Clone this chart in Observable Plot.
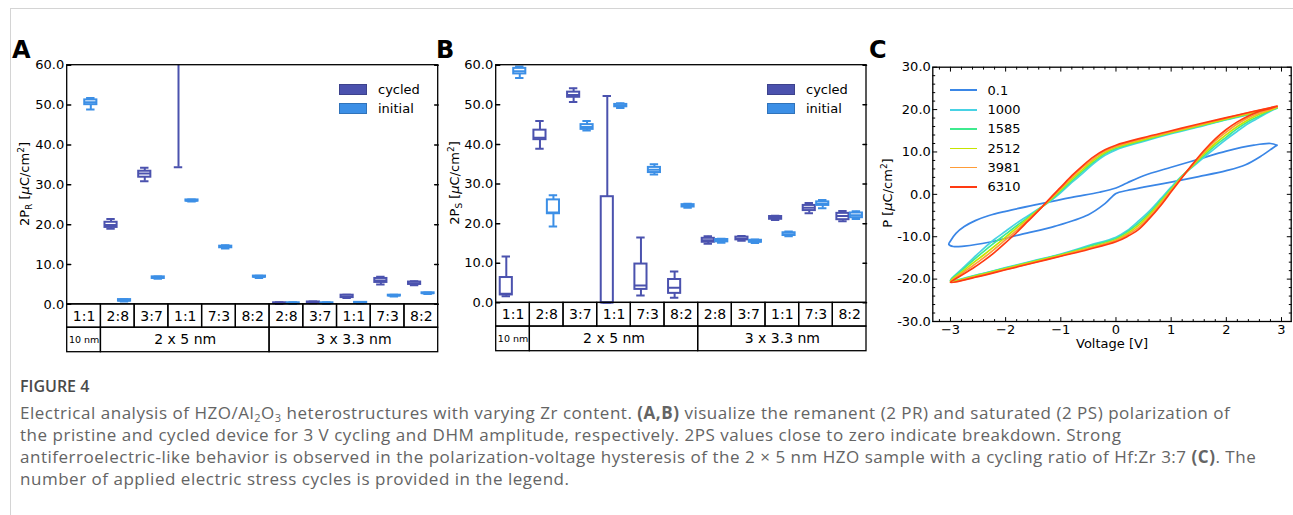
<!DOCTYPE html>
<html><head><meta charset="utf-8">
<script src="https://cdn.jsdelivr.net/npm/d3@7"></script>
<script src="https://cdn.jsdelivr.net/npm/@observablehq/plot@0.6"></script>
<style>
body{margin:0;background:#fff;}
#wrap{position:relative;width:1293px;height:515px;overflow:hidden;font-family:"DejaVu Sans",sans-serif;color:#000;}
.pan{position:absolute;top:0;}
.letter{position:absolute;font:bold 24px "DejaVu Sans";line-height:24px;}
.ylab{position:absolute;width:240px;height:20px;line-height:20px;text-align:center;transform:rotate(-90deg);font-size:13px;white-space:nowrap;}
.ylab sub{font-size:9px;vertical-align:-3px;line-height:0;}
.ylab sup{font-size:9px;vertical-align:5px;line-height:0;}
.leg{position:absolute;font-size:13px;}
.legrow{display:flex;align-items:center;}
#cap{position:absolute;left:20px;top:375px;color:#646464;font-family:"Open Sans",sans-serif;}
#cap .t{font-size:16px;font-weight:600;color:#4a4a4a;line-height:22px;}
#cap .b{font-size:17px;line-height:22px;white-space:nowrap;letter-spacing:0.52px;margin-top:5px;}
#cap sub{font-size:11px;vertical-align:-3px;line-height:0;}
.hline{position:absolute;left:10px;top:8px;width:1283px;height:1px;background:#d4d4d4;}
.vline{position:absolute;left:10px;top:8px;width:1px;height:507px;background:#d4d4d4;}
</style></head>
<body><div id="wrap">
<div class="hline"></div><div class="vline"></div>
</div>
<script>
// ---------- data ----------
const ratios = ["1:1","2:8","3:7","1:1","7:3","8:2","2:8","3:7","1:1","7:3","8:2"];
const stacks = [{label:"10 nm", first:0, last:0}, {label:"2 x 5 nm", first:1, last:5}, {label:"3 x 3.3 nm", first:6, last:10}];
const series = ["cycled", "initial"];
const boxColors = ["#4b52ae", "#3c8fe6"];
const boxTicks = [0, 10, 20, 30, 40, 50, 60];
// [low whisker, q1, median, q3, high whisker]; null = not shown
const prCycled = [null, [19.0,19.3,19.9,20.6,21.4], [30.9,31.9,32.8,33.4,34.3], [34.4,72,80,88,100], null, null,
  [0.1,0.2,0.3,0.4,0.5], [0.3,0.4,0.5,0.6,0.7], [1.6,1.7,2.0,2.3,2.4], [5.0,5.5,6.0,6.5,6.9], [4.8,5.0,5.3,5.6,5.8]];
const prInitial = [[48.9,50.1,50.7,51.3,51.8], [0.7,0.8,1.0,1.2,1.3], [6.4,6.5,6.7,6.9,7.0], [25.8,25.9,26.0,26.2,26.3],
  [14.0,14.2,14.4,14.6,14.8], [6.6,6.8,6.9,7.1,7.2], [0.1,0.2,0.3,0.4,0.5], [0.1,0.2,0.3,0.4,0.5], [0.2,0.3,0.4,0.5,0.6],
  [2.0,2.1,2.2,2.3,2.4], [2.6,2.7,2.8,2.9,3.0]];
const psCycled = [[1.7,2.0,2.3,6.4,11.7], [38.9,41.2,41.7,43.6,45.9], [50.7,51.9,52.5,53.2,54.2], [0,0,0.1,26.8,52.2],
  [1.85,3.4,4.4,9.8,16.5], [1.3,2.4,3.8,5.9,7.9], [14.9,15.3,15.8,16.3,16.8], [15.7,15.9,16.2,16.6,16.9],
  [20.9,21.1,21.4,21.8,22.0], [22.6,23.3,24.0,24.6,25.2], [20.6,21.0,21.9,22.6,23.2]];
const psInitial = [[56.8,57.8,58.5,59.2,59.7], [19.3,22.5,22.8,26.0,27.2], [43.5,43.8,44.4,45.0,45.9], [49.2,49.5,49.8,50.1,50.4],
  [32.4,32.9,33.6,34.2,35.0], [24.0,24.2,24.5,24.8,25.0], [15.2,15.4,15.7,16.0,16.2], [15.1,15.3,15.5,15.8,16.0],
  [16.8,17.0,17.3,17.7,18.0], [23.9,24.6,25.0,25.5,26.0], [21.2,21.5,22.1,22.7,23.1]];

// hysteresis loops: P at shared voltages (falling branch then rising branch)
const cycles = ["0.1", "1000", "1585", "2512", "3981", "6310"];
const loopColors = ["#3a86e6", "#48d2e4", "#3eea8e", "#c6e400", "#ff9c38", "#ff3a12"];
const vFall = [2.92, 2.5, 2.0, 1.5, 1.0, 0.5, 0.0, -0.2, -0.4, -0.6, -0.8, -1.0, -1.2, -1.4, -1.6, -1.8, -2.0, -2.2, -2.4, -2.6, -2.8, -3.0];
const vRise = [-3.0, -2.5, -2.0, -1.5, -1.0, -0.5, 0.0, 0.2, 0.4, 0.6, 0.8, 1.0, 1.2, 1.4, 1.6, 1.8, 2.0, 2.2, 2.4, 2.6, 2.8, 2.92];
const pFall1000 = [20.4, 19.1, 17.6, 15.9, 14.3, 12.5, 10.5, 9.2, 7.3, 5.0, 2.8, 0.4, -1.7, -3.4, -5.1, -6.8, -8.7, -10.6, -12.8, -15.2, -17.7, -20.3];
const pRise1000 = [-20.4, -18.9, -17.3, -15.7, -14.1, -12.1, -10.1, -8.6, -6.4, -4.0, -1.2, 1.7, 4.4, 6.6, 8.8, 10.9, 13.0, 14.9, 16.7, 18.2, 19.6, 20.3];
const pFall1585 = [20.5, 19.2, 17.7, 16.1, 14.5, 12.7, 10.8, 9.6, 7.7, 5.5, 3.2, 0.8, -1.5, -3.5, -5.5, -7.4, -9.4, -11.4, -13.5, -15.7, -18.0, -20.4];
const pRise1585 = [-20.5, -19.0, -17.4, -15.8, -14.2, -12.3, -10.4, -8.9, -6.9, -4.5, -1.6, 1.4, 4.3, 6.8, 9.2, 11.5, 13.5, 15.5, 17.2, 18.5, 19.8, 20.4];
const pFall2512 = [20.6, 19.3, 17.8, 16.2, 14.6, 12.9, 11.1, 9.9, 8.1, 5.9, 3.6, 1.1, -1.4, -3.6, -5.8, -7.9, -10.1, -12.2, -14.3, -16.3, -18.4, -20.5];
const pRise2512 = [-20.6, -19.1, -17.5, -15.9, -14.3, -12.6, -10.7, -9.3, -7.4, -4.9, -2.0, 1.1, 4.2, 6.9, 9.6, 12.0, 14.1, 16.0, 17.6, 18.9, 19.9, 20.5];
const pFall3981 = [20.7, 19.5, 18.0, 16.4, 14.8, 13.2, 11.3, 10.2, 8.5, 6.4, 4.0, 1.4, -1.2, -3.7, -6.1, -8.5, -10.7, -12.9, -15.0, -16.9, -18.7, -20.7];
const pRise3981 = [-20.7, -19.3, -17.7, -16.1, -14.5, -12.8, -10.9, -9.6, -7.9, -5.4, -2.4, 0.9, 4.1, 7.1, 10.0, 12.6, 14.7, 16.6, 18.1, 19.2, 20.1, 20.7];
const pFall6310 = [20.8, 19.6, 18.1, 16.6, 15.0, 13.4, 11.6, 10.5, 8.9, 6.8, 4.4, 1.7, -1.0, -3.8, -6.4, -9.0, -11.4, -13.7, -15.7, -17.5, -19.1, -20.8];
const pRise6310 = [-20.8, -19.4, -17.8, -16.2, -14.6, -13.0, -11.2, -10.0, -8.4, -5.8, -2.8, 0.6, 4.0, 7.3, 10.4, 13.1, 15.3, 17.1, 18.5, 19.6, 20.3, 20.8];
// pristine (0.1 cycles) loop read separately
const vFall01 = [2.92, 2.8, 2.5, 2.0, 1.5, 1.0, 0.5, 0.2, 0.0, -0.3, -0.8, -1.4, -2.0, -2.3, -2.55, -2.75, -2.9, -3.0, -3.03];
const pFall01 = [11.6, 12.0, 11.6, 10.2, 8.3, 6.4, 4.4, 2.7, 1.5, 0.5, -0.7, -2.3, -4.0, -5.0, -6.2, -7.6, -9.2, -11.0, -11.8];
const vRise01 = [-3.03, -2.95, -2.75, -2.3, -1.7, -1.1, -0.5, -0.2, 0.0, 0.2, 0.5, 1.0, 1.5, 2.0, 2.35, 2.65, 2.85, 2.92];
const pRise01 = [-11.8, -12.3, -12.2, -11.3, -9.4, -7.5, -4.8, -2.2, 0.2, 0.9, 1.7, 2.9, 4.2, 5.6, 7.0, 9.2, 11.0, 11.6];

const loopsV = [[vFall01, vRise01], [vFall, vRise], [vFall, vRise], [vFall, vRise], [vFall, vRise], [vFall, vRise]];
const loopsP = [[pFall01, pRise01], [pFall1000, pRise1000], [pFall1585, pRise1585], [pFall2512, pRise2512], [pFall3981, pRise3981], [pFall6310, pRise6310]];

// ---------- helpers ----------
const wrap = document.getElementById("wrap");
const tickShape = {draw(ctx, l) { ctx.moveTo(0, 0); ctx.lineTo(0, -l); }};
const FONT = {fontFamily: "DejaVu Sans", fontSize: "13px", background: "transparent", color: "black", overflow: "visible"};

function place(node, left, top) {
  const d = document.createElement("div");
  d.className = "pan"; d.style.left = left + "px"; d.style.top = top + "px";
  d.appendChild(node); wrap.appendChild(d);
}
function letter(t, left, top) {
  const d = document.createElement("div"); d.className = "letter"; d.textContent = t;
  d.style.left = left + "px"; d.style.top = top + "px"; wrap.appendChild(d);
}
function yLabel(html, cx, cy) {
  const d = document.createElement("div"); d.className = "ylab"; d.innerHTML = html;
  d.style.left = (cx - 120) + "px"; d.style.top = (cy - 10) + "px"; wrap.appendChild(d);
}
function boxLegend(left, top) {
  const d = document.createElement("div"); d.className = "leg";
  d.style.left = left + "px"; d.style.top = top + "px";
  series.forEach((s, i) => {
    const r = document.createElement("div"); r.className = "legrow"; r.style.height = "19.6px";
    r.innerHTML = `<span style="display:inline-block;width:26px;height:9px;background:${boxColors[i]};border:1px solid ${d3.color(boxColors[i]).darker(0.6)}"></span><span style="margin-left:11px">${s}</span>`;
    d.appendChild(r);
  });
  wrap.appendChild(d);
}
function boxRows(cycled, initial) {
  const rows = [];
  ratios.forEach((r, i) => {
    [cycled, initial].forEach((arr, s) => {
      const v = arr[i];
      if (!v) return;
      rows.push({pos: i + 0.5 + (s === 0 ? -0.2 : 0.2), series: series[s], lo: v[0], q1: v[1], med: v[2], q3: v[3], hi: v[4]});
    });
  });
  return rows;
}
function boxPlot(rows, o) {
  const n = ratios.length, r1 = o.row1, r2 = o.yBottom;
  const st = {stroke: "series", strokeWidth: 2, clip: true};
  return Plot.plot({
    width: o.width, height: 360, marginLeft: o.ml, marginRight: o.mr, marginTop: o.mt, marginBottom: o.mb,
    style: FONT,
    x: {domain: [0, n], axis: null},
    y: {domain: [r2, 60], axis: null},
    color: {domain: series, range: boxColors},
    marks: [
      Plot.ruleX(rows, {x: "pos", y1: "lo", y2: "q1", ...st}),
      Plot.ruleX(rows, {x: "pos", y1: "q3", y2: "hi", ...st}),
      Plot.ruleY(rows, {y: "lo", x1: d => d.pos - 0.125, x2: d => d.pos + 0.125, ...st}),
      Plot.ruleY(rows, {y: "hi", x1: d => d.pos - 0.125, x2: d => d.pos + 0.125, ...st}),
      Plot.rect(rows, {x1: d => d.pos - 0.18, x2: d => d.pos + 0.18, y1: "q1", y2: "q3", fill: "white", ...st}),
      Plot.ruleY(rows, {y: "med", x1: d => d.pos - 0.18, x2: d => d.pos + 0.18, ...st}),
      Plot.rect([0], {x1: 0, x2: n, y1: 0, y2: 60, fill: "none", stroke: "black", strokeWidth: 1.3}),
      Plot.rect(ratios, {x1: (d, i) => i, x2: (d, i) => i + 1, y1: 0, y2: r1, fill: "none", stroke: "black", strokeWidth: 1.3}),
      Plot.rect(stacks, {x1: "first", x2: d => d.last + 1, y1: r1, y2: r2, fill: "none", stroke: "black", strokeWidth: 1.3}),
      Plot.text(ratios, {x: (d, i) => i + 0.5, y: r1 / 2, text: d => d, fontSize: 14}),
      Plot.text(stacks, {x: d => (d.first + d.last + 1) / 2, y: (r1 + r2) / 2, text: "label", fontSize: d => d.first === d.last ? 9.5 : 14}),
      Plot.vector(boxTicks, {x: 0, y: d => d, length: 3.5, rotate: 90, anchor: "start", shape: tickShape, stroke: "black"}),
      Plot.vector(boxTicks, {x: n, y: d => d, length: 3.5, rotate: -90, anchor: "start", shape: tickShape, stroke: "black"}),
      Plot.text(boxTicks, {x: 0, y: d => d, text: d => d.toFixed(1), textAnchor: "end", dx: -3, fontSize: 13})
    ]
  });
}

// ---------- panel A ----------
place(boxPlot(boxRows(prCycled, prInitial), {width: 440, ml: 66.7, mr: 2.3, mt: 64.7, mb: 8.3, row1: -5.86, yBottom: -12}), 0, 0);
letter("A", 12, 38);
yLabel('2P<sub>R</sub> [<i>μ</i>C/cm<sup>2</sup>]', 25, 184);
boxLegend(339, 79.5);

// ---------- panel B ----------
place(boxPlot(boxRows(psCycled, psInitial), {width: 430, ml: 55.7, mr: 4, mt: 64.7, mb: 9.3, row1: -5.98, yBottom: -12.2}), 440, 0);
letter("B", 436, 38);
yLabel('2P<sub>S</sub> [<i>μ</i>C/cm<sup>2</sup>]', 455, 183);
boxLegend(767, 79.5);

// ---------- panel C ----------
const xDom = [-3.32, 3.176], yDom = [-30, 30];
const loopRows = [];
cycles.forEach((c, k) => {
  const [vf, vr] = loopsV[k], [pf, pr] = loopsP[k];
  vf.forEach((v, i) => loopRows.push({cycles: c, v, p: pf[i]}));
  vr.forEach((v, i) => { if (i > 0) loopRows.push({cycles: c, v, p: pr[i]}); });
});
const xMajor = d3.range(-3, 4);
const xMinor = d3.range(-16, 16).filter(k => k % 5 !== 0).map(k => k * 0.2);
const yMajor = d3.range(-30, 31, 10);
const yMinor = d3.range(-30, 31, 2).filter(d => d % 10 !== 0);
const tk = (data, o) => Plot.vector(data, {anchor: "start", shape: tickShape, stroke: "black", strokeWidth: 1, ...o});
const plotC = Plot.plot({
  width: 423, height: 360, marginLeft: 62.3, marginRight: 2.3, marginTop: 66.7, marginBottom: 39,
  style: FONT,
  x: {domain: xDom, axis: null},
  y: {domain: yDom, axis: null},
  color: {domain: cycles, range: loopColors},
  marks: [
    Plot.line(loopRows, {x: "v", y: "p", z: "cycles", stroke: "cycles", curve: "catmull-rom", strokeWidth: 1.7}),
    Plot.frame({stroke: "black", strokeWidth: 1.3}),
    tk(xMajor, {x: d => d, y: yDom[0], length: 4, rotate: 0}),
    tk(xMajor, {x: d => d, y: yDom[1], length: 4, rotate: 180}),
    tk(xMinor, {x: d => d, y: yDom[0], length: 2, rotate: 0}),
    tk(xMinor, {x: d => d, y: yDom[1], length: 2, rotate: 180}),
    tk(yMajor, {x: xDom[0], y: d => d, length: 4, rotate: 90}),
    tk(yMajor, {x: xDom[1], y: d => d, length: 4, rotate: -90}),
    tk(yMinor, {x: xDom[0], y: d => d, length: 2, rotate: 90}),
    tk(yMinor, {x: xDom[1], y: d => d, length: 2, rotate: -90}),
    Plot.text(xMajor, {x: d => d, y: yDom[0], text: d => d < 0 ? "\u2212" + Math.abs(d) : String(d), lineAnchor: "top", dy: 3, fontSize: 13}),
    Plot.text(yMajor, {x: xDom[0], y: d => d, text: d => d.toFixed(1), textAnchor: "end", dx: -2, fontSize: 13}),
    Plot.text(["Voltage [V]"], {x: (xDom[0] + xDom[1]) / 2, y: yDom[0], text: d => d, lineAnchor: "top", dy: 17, fontSize: 13})
  ]
});
place(plotC, 870, 0);
letter("C", 869, 38);
yLabel('P [<i>μ</i>C/cm<sup>2</sup>]', 887.5, 193);
{
  const d = document.createElement("div"); d.className = "leg";
  d.style.left = "950px"; d.style.top = "80.6px";
  cycles.forEach((c, i) => {
    const r = document.createElement("div"); r.className = "legrow"; r.style.height = "19.35px";
    r.innerHTML = `<span style="display:inline-block;width:27px;height:${i === 1 || i === 2 ? 2.2 : 1.6}px;background:${loopColors[i]}"></span><span style="margin-left:10.5px">${c}</span>`;
    d.appendChild(r);
  });
  wrap.appendChild(d);
}

// ---------- caption ----------
const cap = document.createElement("div"); cap.id = "cap";
cap.innerHTML = `<div class="t">FIGURE 4</div><div class="b">Electrical analysis of HZO/Al<sub>2</sub>O<sub>3</sub> heterostructures with varying Zr content. <b>(A,B)</b> visualize the remanent (2 PR) and saturated (2 PS) polarization of<br>the pristine and cycled device for 3 V cycling and DHM amplitude, respectively. 2PS values close to zero indicate breakdown. Strong<br>antiferroelectric-like behavior is observed in the polarization-voltage hysteresis of the 2 × 5 nm HZO sample with a cycling ratio of Hf:Zr 3:7 <b>(C)</b>. The<br>number of applied electric stress cycles is provided in the legend.</div>`;
wrap.appendChild(cap);
</script>
</body></html>
